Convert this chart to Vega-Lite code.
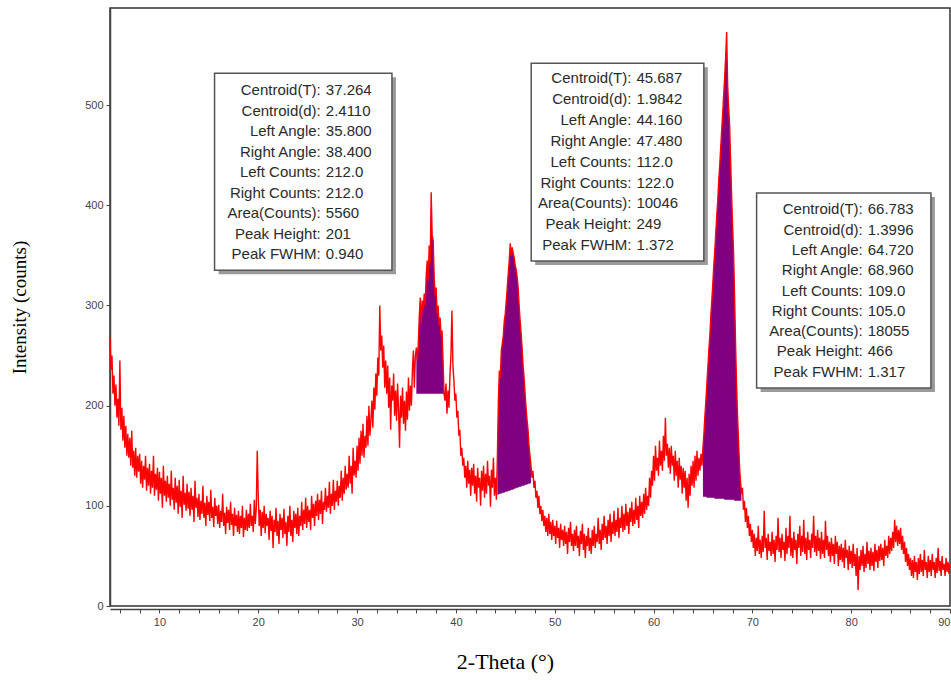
{
  "$schema": "https://vega.github.io/schema/vega-lite/v6.json",
  "width": 840,
  "height": 598,
  "autosize": "none",
  "padding": {"left": 110, "top": 8, "right": 1, "bottom": 78},
  "background": "white",
  "config": {
    "view": {"stroke": "#333", "strokeWidth": 1.5},
    "axis": {"grid": false, "labelFont": "Liberation Sans", "labelFontSize": 11, "labelColor": "#444", "domainColor": "#444", "domainWidth": 1.5, "tickColor": "#444", "titleFont": "Liberation Serif", "titleFontWeight": "normal", "titleColor": "#000", "labelOverlap": false}
  },
  "datasets": {
    "scan": [
      {"t":5.0,"c":268},{"t":5.1,"c":236},{"t":5.2,"c":250},{"t":5.3,"c":212},{"t":5.4,"c":230},{"t":5.5,"c":200},{"t":5.6,"c":221},{"t":5.7,"c":188},{"t":5.8,"c":207},{"t":5.9,"c":180},
      {"t":6.0,"c":245},{"t":6.1,"c":176},{"t":6.2,"c":198},{"t":6.3,"c":165},{"t":6.4,"c":190},{"t":6.5,"c":158},{"t":6.6,"c":180},{"t":6.7,"c":150},{"t":6.8,"c":172},{"t":6.9,"c":148},
      {"t":7.0,"c":168},{"t":7.1,"c":140},{"t":7.2,"c":175},{"t":7.3,"c":138},{"t":7.4,"c":155},{"t":7.5,"c":130},{"t":7.6,"c":158},{"t":7.7,"c":128},{"t":7.8,"c":150},{"t":7.9,"c":134},
      {"t":8.0,"c":152},{"t":8.1,"c":122},{"t":8.2,"c":145},{"t":8.3,"c":118},{"t":8.4,"c":140},{"t":8.5,"c":126},{"t":8.6,"c":150},{"t":8.7,"c":115},{"t":8.8,"c":138},{"t":8.9,"c":120},
      {"t":9.0,"c":142},{"t":9.1,"c":112},{"t":9.2,"c":135},{"t":9.3,"c":118},{"t":9.4,"c":150},{"t":9.5,"c":110},{"t":9.6,"c":132},{"t":9.7,"c":116},{"t":9.8,"c":138},{"t":9.9,"c":105},
      {"t":10.0,"c":134},{"t":10.1,"c":112},{"t":10.2,"c":128},{"t":10.3,"c":98},{"t":10.4,"c":140},{"t":10.5,"c":110},{"t":10.6,"c":125},{"t":10.7,"c":104},{"t":10.8,"c":130},{"t":10.9,"c":108},
      {"t":11.0,"c":122},{"t":11.1,"c":100},{"t":11.2,"c":135},{"t":11.3,"c":106},{"t":11.4,"c":118},{"t":11.5,"c":96},{"t":11.6,"c":128},{"t":11.7,"c":103},{"t":11.8,"c":120},{"t":11.9,"c":92},
      {"t":12.0,"c":126},{"t":12.1,"c":99},{"t":12.2,"c":115},{"t":12.3,"c":88},{"t":12.4,"c":130},{"t":12.5,"c":101},{"t":12.6,"c":113},{"t":12.7,"c":95},{"t":12.8,"c":122},{"t":12.9,"c":97},
      {"t":13.0,"c":114},{"t":13.1,"c":90},{"t":13.2,"c":118},{"t":13.3,"c":96},{"t":13.4,"c":110},{"t":13.5,"c":84},{"t":13.6,"c":125},{"t":13.7,"c":98},{"t":13.8,"c":108},{"t":13.9,"c":89},
      {"t":14.0,"c":112},{"t":14.1,"c":86},{"t":14.2,"c":105},{"t":14.3,"c":92},{"t":14.4,"c":120},{"t":14.5,"c":88},{"t":14.6,"c":103},{"t":14.7,"c":80},{"t":14.8,"c":110},{"t":14.9,"c":91},
      {"t":15.0,"c":104},{"t":15.1,"c":85},{"t":15.2,"c":116},{"t":15.3,"c":88},{"t":15.4,"c":99},{"t":15.5,"c":79},{"t":15.6,"c":108},{"t":15.7,"c":90},{"t":15.8,"c":100},{"t":15.9,"c":82},
      {"t":16.0,"c":101},{"t":16.1,"c":78},{"t":16.2,"c":95},{"t":16.3,"c":84},{"t":16.4,"c":112},{"t":16.5,"c":80},{"t":16.6,"c":93},{"t":16.7,"c":72},{"t":16.8,"c":99},{"t":16.9,"c":83},
      {"t":17.0,"c":96},{"t":17.1,"c":76},{"t":17.2,"c":104},{"t":17.3,"c":81},{"t":17.4,"c":92},{"t":17.5,"c":70},{"t":17.6,"c":98},{"t":17.7,"c":80},{"t":17.8,"c":91},{"t":17.9,"c":74},
      {"t":18.0,"c":95},{"t":18.1,"c":72},{"t":18.2,"c":90},{"t":18.3,"c":78},{"t":18.4,"c":100},{"t":18.5,"c":69},{"t":18.6,"c":88},{"t":18.7,"c":76},{"t":18.8,"c":96},{"t":18.9,"c":75},
      {"t":19.0,"c":92},{"t":19.1,"c":78},{"t":19.2,"c":102},{"t":19.3,"c":80},{"t":19.4,"c":90},{"t":19.5,"c":74},{"t":19.6,"c":106},{"t":19.7,"c":82},{"t":19.8,"c":98},{"t":19.9,"c":155},
      {"t":20.0,"c":110},{"t":20.1,"c":80},{"t":20.2,"c":96},{"t":20.3,"c":70},{"t":20.4,"c":94},{"t":20.5,"c":78},{"t":20.6,"c":100},{"t":20.7,"c":73},{"t":20.8,"c":92},{"t":20.9,"c":80},
      {"t":21.0,"c":88},{"t":21.1,"c":66},{"t":21.2,"c":95},{"t":21.3,"c":75},{"t":21.4,"c":90},{"t":21.5,"c":58},{"t":21.6,"c":86},{"t":21.7,"c":74},{"t":21.8,"c":98},{"t":21.9,"c":70},
      {"t":22.0,"c":85},{"t":22.1,"c":62},{"t":22.2,"c":92},{"t":22.3,"c":76},{"t":22.4,"c":88},{"t":22.5,"c":68},{"t":22.6,"c":97},{"t":22.7,"c":72},{"t":22.8,"c":84},{"t":22.9,"c":60},
      {"t":23.0,"c":90},{"t":23.1,"c":74},{"t":23.2,"c":100},{"t":23.3,"c":70},{"t":23.4,"c":86},{"t":23.5,"c":64},{"t":23.6,"c":95},{"t":23.7,"c":78},{"t":23.8,"c":92},{"t":23.9,"c":72},
      {"t":24.0,"c":98},{"t":24.1,"c":70},{"t":24.2,"c":90},{"t":24.3,"c":80},{"t":24.4,"c":104},{"t":24.5,"c":76},{"t":24.6,"c":96},{"t":24.7,"c":82},{"t":24.8,"c":108},{"t":24.9,"c":78},
      {"t":25.0,"c":100},{"t":25.1,"c":84},{"t":25.2,"c":96},{"t":25.3,"c":76},{"t":25.4,"c":110},{"t":25.5,"c":88},{"t":25.6,"c":102},{"t":25.7,"c":80},{"t":25.8,"c":105},{"t":25.9,"c":90},
      {"t":26.0,"c":112},{"t":26.1,"c":86},{"t":26.2,"c":106},{"t":26.3,"c":92},{"t":26.4,"c":115},{"t":26.5,"c":82},{"t":26.6,"c":104},{"t":26.7,"c":96},{"t":26.8,"c":118},{"t":26.9,"c":94},
      {"t":27.0,"c":110},{"t":27.1,"c":98},{"t":27.2,"c":124},{"t":27.3,"c":92},{"t":27.4,"c":112},{"t":27.5,"c":100},{"t":27.6,"c":126},{"t":27.7,"c":96},{"t":27.8,"c":115},{"t":27.9,"c":104},
      {"t":28.0,"c":125},{"t":28.1,"c":100},{"t":28.2,"c":120},{"t":28.3,"c":108},{"t":28.4,"c":135},{"t":28.5,"c":105},{"t":28.6,"c":128},{"t":28.7,"c":112},{"t":28.8,"c":140},{"t":28.9,"c":116},
      {"t":29.0,"c":132},{"t":29.1,"c":118},{"t":29.2,"c":150},{"t":29.3,"c":122},{"t":29.4,"c":140},{"t":29.5,"c":112},{"t":29.6,"c":158},{"t":29.7,"c":130},{"t":29.8,"c":145},{"t":29.9,"c":128},
      {"t":30.0,"c":160},{"t":30.1,"c":135},{"t":30.2,"c":168},{"t":30.3,"c":142},{"t":30.4,"c":175},{"t":30.5,"c":150},{"t":30.6,"c":182},{"t":30.7,"c":148},{"t":30.8,"c":170},{"t":30.9,"c":158},
      {"t":31.0,"c":190},{"t":31.1,"c":160},{"t":31.2,"c":200},{"t":31.3,"c":170},{"t":31.4,"c":185},{"t":31.5,"c":205},{"t":31.6,"c":178},{"t":31.7,"c":218},{"t":31.8,"c":196},{"t":31.9,"c":232},
      {"t":32.0,"c":210},{"t":32.1,"c":248},{"t":32.2,"c":230},{"t":32.3,"c":300},{"t":32.4,"c":255},{"t":32.5,"c":270},{"t":32.6,"c":238},{"t":32.7,"c":260},{"t":32.8,"c":218},{"t":32.9,"c":245},
      {"t":33.0,"c":212},{"t":33.1,"c":240},{"t":33.2,"c":198},{"t":33.3,"c":228},{"t":33.4,"c":176},{"t":33.5,"c":220},{"t":33.6,"c":205},{"t":33.7,"c":232},{"t":33.8,"c":190},{"t":33.9,"c":215},
      {"t":34.0,"c":185},{"t":34.1,"c":222},{"t":34.2,"c":196},{"t":34.3,"c":158},{"t":34.4,"c":210},{"t":34.5,"c":188},{"t":34.6,"c":218},{"t":34.7,"c":182},{"t":34.8,"c":205},{"t":34.9,"c":175},
      {"t":35.0,"c":214},{"t":35.1,"c":186},{"t":35.2,"c":228},{"t":35.3,"c":195},{"t":35.4,"c":220},{"t":35.5,"c":200},{"t":35.6,"c":235},{"t":35.7,"c":255},{"t":35.8,"c":218},{"t":35.9,"c":250},
      {"t":36.0,"c":258,"b":212,"p":1},{"t":36.1,"c":245,"b":212,"p":1},{"t":36.2,"c":262,"b":212,"p":1},{"t":36.3,"c":290,"b":212,"p":1},{"t":36.4,"c":308,"b":212,"p":1},{"t":36.5,"c":282,"b":212,"p":1},{"t":36.6,"c":305,"b":212,"p":1},{"t":36.7,"c":296,"b":212,"p":1},{"t":36.8,"c":312,"b":212,"p":1},{"t":36.9,"c":300,"b":212,"p":1},
      {"t":37.0,"c":330,"b":212,"p":1},{"t":37.1,"c":345,"b":212,"p":1},{"t":37.2,"c":325,"b":212,"p":1},{"t":37.3,"c":360,"b":212,"p":1},{"t":37.4,"c":342,"b":212,"p":1},{"t":37.5,"c":413,"b":212,"p":1},{"t":37.6,"c":370,"b":212,"p":1},{"t":37.7,"c":365,"b":212,"p":1},{"t":37.8,"c":330,"b":212,"p":1},{"t":37.9,"c":310,"b":212,"p":1},
      {"t":38.0,"c":318,"b":212,"p":1},{"t":38.1,"c":292,"b":212,"p":1},{"t":38.2,"c":300,"b":212,"p":1},{"t":38.3,"c":280,"b":212,"p":1},{"t":38.4,"c":288,"b":212,"p":1},{"t":38.5,"c":270,"b":212,"p":1},{"t":38.6,"c":275,"b":212,"p":1},{"t":38.7,"c":245,"b":212,"p":1},{"t":38.8,"c":212,"b":212,"p":1},{"t":38.9,"c":205},
      {"t":39.0,"c":222},{"t":39.1,"c":192},{"t":39.2,"c":215},{"t":39.3,"c":198},{"t":39.4,"c":230},{"t":39.5,"c":250},{"t":39.6,"c":295},{"t":39.7,"c":240},{"t":39.8,"c":225},{"t":39.9,"c":205},
      {"t":40.0,"c":212},{"t":40.1,"c":188},{"t":40.2,"c":195},{"t":40.3,"c":170},{"t":40.4,"c":176},{"t":40.5,"c":150},{"t":40.6,"c":158},{"t":40.7,"c":140},{"t":40.8,"c":148},{"t":40.9,"c":128},
      {"t":41.0,"c":140},{"t":41.1,"c":118},{"t":41.2,"c":145},{"t":41.3,"c":122},{"t":41.4,"c":136},{"t":41.5,"c":110},{"t":41.6,"c":138},{"t":41.7,"c":120},{"t":41.8,"c":142},{"t":41.9,"c":112},
      {"t":42.0,"c":130},{"t":42.1,"c":104},{"t":42.2,"c":138},{"t":42.3,"c":118},{"t":42.4,"c":128},{"t":42.5,"c":100},{"t":42.6,"c":135},{"t":42.7,"c":115},{"t":42.8,"c":140},{"t":42.9,"c":108},
      {"t":43.0,"c":132},{"t":43.1,"c":112},{"t":43.2,"c":145},{"t":43.3,"c":120},{"t":43.4,"c":130},{"t":43.5,"c":99},{"t":43.6,"c":136},{"t":43.7,"c":118},{"t":43.8,"c":148},{"t":43.9,"c":110},
      {"t":44.0,"c":128},{"t":44.1,"c":106},{"t":44.2,"c":150,"b":111,"p":2},{"t":44.3,"c":205,"b":111,"p":2},{"t":44.4,"c":235,"b":112,"p":2},{"t":44.5,"c":228,"b":112,"p":2},{"t":44.6,"c":255,"b":112,"p":2},{"t":44.7,"c":262,"b":113,"p":2},{"t":44.8,"c":270,"b":113,"p":2},{"t":44.9,"c":285,"b":113,"p":2},
      {"t":45.0,"c":292,"b":114,"p":2},{"t":45.1,"c":305,"b":114,"p":2},{"t":45.2,"c":318,"b":114,"p":2},{"t":45.3,"c":332,"b":115,"p":2},{"t":45.4,"c":345,"b":115,"p":2},{"t":45.5,"c":362,"b":115,"p":2},{"t":45.6,"c":350,"b":116,"p":2},{"t":45.7,"c":358,"b":116,"p":2},{"t":45.8,"c":352,"b":116,"p":2},{"t":45.9,"c":348,"b":117,"p":2},
      {"t":46.0,"c":340,"b":117,"p":2},{"t":46.1,"c":336,"b":118,"p":2},{"t":46.2,"c":328,"b":118,"p":2},{"t":46.3,"c":318,"b":118,"p":2},{"t":46.4,"c":300,"b":119,"p":2},{"t":46.5,"c":285,"b":119,"p":2},{"t":46.6,"c":272,"b":119,"p":2},{"t":46.7,"c":258,"b":120,"p":2},{"t":46.8,"c":240,"b":120,"p":2},{"t":46.9,"c":228,"b":120,"p":2},
      {"t":47.0,"c":212,"b":121,"p":2},{"t":47.1,"c":198,"b":121,"p":2},{"t":47.2,"c":186,"b":121,"p":2},{"t":47.3,"c":176,"b":122,"p":2},{"t":47.4,"c":160,"b":122,"p":2},{"t":47.5,"c":150,"b":122,"p":2},{"t":47.6,"c":140,"b":123,"p":2},{"t":47.7,"c":128},{"t":47.8,"c":135},{"t":47.9,"c":118},
      {"t":48.0,"c":125},{"t":48.1,"c":108},{"t":48.2,"c":115},{"t":48.3,"c":98},{"t":48.4,"c":110},{"t":48.5,"c":92},{"t":48.6,"c":100},{"t":48.7,"c":85},{"t":48.8,"c":96},{"t":48.9,"c":80},
      {"t":49.0,"c":90},{"t":49.1,"c":74},{"t":49.2,"c":88},{"t":49.3,"c":70},{"t":49.4,"c":92},{"t":49.5,"c":72},{"t":49.6,"c":84},{"t":49.7,"c":66},{"t":49.8,"c":86},{"t":49.9,"c":70},
      {"t":50.0,"c":80},{"t":50.1,"c":62},{"t":50.2,"c":85},{"t":50.3,"c":68},{"t":50.4,"c":78},{"t":50.5,"c":58},{"t":50.6,"c":82},{"t":50.7,"c":66},{"t":50.8,"c":76},{"t":50.9,"c":60},
      {"t":51.0,"c":80},{"t":51.1,"c":62},{"t":51.2,"c":74},{"t":51.3,"c":52},{"t":51.4,"c":78},{"t":51.5,"c":64},{"t":51.6,"c":84},{"t":51.7,"c":60},{"t":51.8,"c":72},{"t":51.9,"c":55},
      {"t":52.0,"c":76},{"t":52.1,"c":60},{"t":52.2,"c":80},{"t":52.3,"c":58},{"t":52.4,"c":70},{"t":52.5,"c":50},{"t":52.6,"c":75},{"t":52.7,"c":62},{"t":52.8,"c":82},{"t":52.9,"c":56},
      {"t":53.0,"c":72},{"t":53.1,"c":48},{"t":53.2,"c":70},{"t":53.3,"c":60},{"t":53.4,"c":78},{"t":53.5,"c":55},{"t":53.6,"c":68},{"t":53.7,"c":52},{"t":53.8,"c":76},{"t":53.9,"c":60},
      {"t":54.0,"c":80},{"t":54.1,"c":58},{"t":54.2,"c":72},{"t":54.3,"c":64},{"t":54.4,"c":88},{"t":54.5,"c":62},{"t":54.6,"c":76},{"t":54.7,"c":56},{"t":54.8,"c":82},{"t":54.9,"c":66},
      {"t":55.0,"c":90},{"t":55.1,"c":68},{"t":55.2,"c":80},{"t":55.3,"c":62},{"t":55.4,"c":86},{"t":55.5,"c":70},{"t":55.6,"c":92},{"t":55.7,"c":64},{"t":55.8,"c":84},{"t":55.9,"c":72},
      {"t":56.0,"c":95},{"t":56.1,"c":70},{"t":56.2,"c":86},{"t":56.3,"c":74},{"t":56.4,"c":98},{"t":56.5,"c":68},{"t":56.6,"c":88},{"t":56.7,"c":78},{"t":56.8,"c":100},{"t":56.9,"c":74},
      {"t":57.0,"c":92},{"t":57.1,"c":76},{"t":57.2,"c":102},{"t":57.3,"c":80},{"t":57.4,"c":94},{"t":57.5,"c":72},{"t":57.6,"c":98},{"t":57.7,"c":84},{"t":57.8,"c":104},{"t":57.9,"c":80},
      {"t":58.0,"c":96},{"t":58.1,"c":82},{"t":58.2,"c":108},{"t":58.3,"c":86},{"t":58.4,"c":100},{"t":58.5,"c":78},{"t":58.6,"c":110},{"t":58.7,"c":90},{"t":58.8,"c":104},{"t":58.9,"c":88},
      {"t":59.0,"c":112},{"t":59.1,"c":92},{"t":59.2,"c":118},{"t":59.3,"c":96},{"t":59.4,"c":110},{"t":59.5,"c":100},{"t":59.6,"c":128},{"t":59.7,"c":108},{"t":59.8,"c":135},{"t":59.9,"c":120},
      {"t":60.0,"c":150},{"t":60.1,"c":125},{"t":60.2,"c":160},{"t":60.3,"c":135},{"t":60.4,"c":148},{"t":60.5,"c":130},{"t":60.6,"c":165},{"t":60.7,"c":140},{"t":60.8,"c":155},{"t":60.9,"c":135},
      {"t":61.0,"c":170},{"t":61.1,"c":145},{"t":61.2,"c":188},{"t":61.3,"c":150},{"t":61.4,"c":162},{"t":61.5,"c":138},{"t":61.6,"c":158},{"t":61.7,"c":132},{"t":61.8,"c":160},{"t":61.9,"c":140},
      {"t":62.0,"c":150},{"t":62.1,"c":125},{"t":62.2,"c":155},{"t":62.3,"c":130},{"t":62.4,"c":145},{"t":62.5,"c":118},{"t":62.6,"c":148},{"t":62.7,"c":126},{"t":62.8,"c":140},{"t":62.9,"c":112},
      {"t":63.0,"c":138},{"t":63.1,"c":118},{"t":63.2,"c":135},{"t":63.3,"c":105},{"t":63.4,"c":128},{"t":63.5,"c":98},{"t":63.6,"c":132},{"t":63.7,"c":110},{"t":63.8,"c":140},{"t":63.9,"c":120},
      {"t":64.0,"c":145},{"t":64.1,"c":118},{"t":64.2,"c":150},{"t":64.3,"c":125},{"t":64.4,"c":155},{"t":64.5,"c":130},{"t":64.6,"c":148},{"t":64.7,"c":135},{"t":64.8,"c":152},{"t":64.9,"c":140},
      {"t":65.0,"c":158,"b":109,"p":3},{"t":65.1,"c":172,"b":109,"p":3},{"t":65.2,"c":190,"b":109,"p":3},{"t":65.3,"c":205,"b":109,"p":3},{"t":65.4,"c":222,"b":108,"p":3},{"t":65.5,"c":238,"b":108,"p":3},{"t":65.6,"c":256,"b":108,"p":3},{"t":65.7,"c":270,"b":108,"p":3},{"t":65.8,"c":290,"b":108,"p":3},{"t":65.9,"c":305,"b":108,"p":3},
      {"t":66.0,"c":322,"b":108,"p":3},{"t":66.1,"c":340,"b":108,"p":3},{"t":66.2,"c":355,"b":107,"p":3},{"t":66.3,"c":372,"b":107,"p":3},{"t":66.4,"c":390,"b":107,"p":3},{"t":66.5,"c":405,"b":107,"p":3},{"t":66.6,"c":425,"b":107,"p":3},{"t":66.7,"c":440,"b":107,"p":3},{"t":66.8,"c":458,"b":107,"p":3},{"t":66.9,"c":475,"b":107,"p":3},
      {"t":67.0,"c":492,"b":107,"p":3},{"t":67.1,"c":510,"b":107,"p":3},{"t":67.2,"c":528,"b":106,"p":3},{"t":67.3,"c":548,"b":106,"p":3},{"t":67.4,"c":573,"b":106,"p":3},{"t":67.5,"c":520,"b":106,"p":3},{"t":67.6,"c":498,"b":106,"p":3},{"t":67.7,"c":480,"b":106,"p":3},{"t":67.8,"c":445,"b":106,"p":3},{"t":67.9,"c":410,"b":106,"p":3},
      {"t":68.0,"c":380,"b":106,"p":3},{"t":68.1,"c":352,"b":106,"p":3},{"t":68.2,"c":310,"b":105,"p":3},{"t":68.3,"c":262,"b":105,"p":3},{"t":68.4,"c":222,"b":105,"p":3},{"t":68.5,"c":190,"b":105,"p":3},{"t":68.6,"c":165,"b":105,"p":3},{"t":68.7,"c":140,"b":105,"p":3},{"t":68.8,"c":125,"b":105,"p":3},{"t":68.9,"c":112,"b":105,"p":3},
      {"t":69.0,"c":118},{"t":69.1,"c":96},{"t":69.2,"c":105},{"t":69.3,"c":84},{"t":69.4,"c":98},{"t":69.5,"c":78},{"t":69.6,"c":90},{"t":69.7,"c":70},{"t":69.8,"c":82},{"t":69.9,"c":64},
      {"t":70.0,"c":76},{"t":70.1,"c":58},{"t":70.2,"c":72},{"t":70.3,"c":50},{"t":70.4,"c":68},{"t":70.5,"c":55},{"t":70.6,"c":80},{"t":70.7,"c":52},{"t":70.8,"c":66},{"t":70.9,"c":48},
      {"t":71.0,"c":70},{"t":71.1,"c":54},{"t":71.2,"c":95},{"t":71.3,"c":58},{"t":71.4,"c":68},{"t":71.5,"c":46},{"t":71.6,"c":72},{"t":71.7,"c":55},{"t":71.8,"c":64},{"t":71.9,"c":50},
      {"t":72.0,"c":74},{"t":72.1,"c":52},{"t":72.2,"c":66},{"t":72.3,"c":44},{"t":72.4,"c":70},{"t":72.5,"c":56},{"t":72.6,"c":88},{"t":72.7,"c":54},{"t":72.8,"c":68},{"t":72.9,"c":48},
      {"t":73.0,"c":72},{"t":73.1,"c":56},{"t":73.2,"c":64},{"t":73.3,"c":45},{"t":73.4,"c":78},{"t":73.5,"c":52},{"t":73.6,"c":70},{"t":73.7,"c":58},{"t":73.8,"c":90},{"t":73.9,"c":50},
      {"t":74.0,"c":68},{"t":74.1,"c":48},{"t":74.2,"c":74},{"t":74.3,"c":56},{"t":74.4,"c":66},{"t":74.5,"c":42},{"t":74.6,"c":72},{"t":74.7,"c":58},{"t":74.8,"c":80},{"t":74.9,"c":50},
      {"t":75.0,"c":70},{"t":75.1,"c":54},{"t":75.2,"c":86},{"t":75.3,"c":52},{"t":75.4,"c":68},{"t":75.5,"c":46},{"t":75.6,"c":74},{"t":75.7,"c":56},{"t":75.8,"c":66},{"t":75.9,"c":48},
      {"t":76.0,"c":72},{"t":76.1,"c":58},{"t":76.2,"c":90},{"t":76.3,"c":54},{"t":76.4,"c":70},{"t":76.5,"c":50},{"t":76.6,"c":76},{"t":76.7,"c":55},{"t":76.8,"c":68},{"t":76.9,"c":47},
      {"t":77.0,"c":74},{"t":77.1,"c":52},{"t":77.2,"c":66},{"t":77.3,"c":48},{"t":77.4,"c":85},{"t":77.5,"c":56},{"t":77.6,"c":70},{"t":77.7,"c":50},{"t":77.8,"c":64},{"t":77.9,"c":44},
      {"t":78.0,"c":68},{"t":78.1,"c":50},{"t":78.2,"c":62},{"t":78.3,"c":42},{"t":78.4,"c":70},{"t":78.5,"c":52},{"t":78.6,"c":64},{"t":78.7,"c":40},{"t":78.8,"c":60},{"t":78.9,"c":46},
      {"t":79.0,"c":62},{"t":79.1,"c":44},{"t":79.2,"c":58},{"t":79.3,"c":38},{"t":79.4,"c":66},{"t":79.5,"c":48},{"t":79.6,"c":56},{"t":79.7,"c":36},{"t":79.8,"c":60},{"t":79.9,"c":42},
      {"t":80.0,"c":55},{"t":80.1,"c":38},{"t":80.2,"c":62},{"t":80.3,"c":40},{"t":80.4,"c":52},{"t":80.5,"c":30},{"t":80.6,"c":58},{"t":80.7,"c":16},{"t":80.8,"c":50},{"t":80.9,"c":36},
      {"t":81.0,"c":56},{"t":81.1,"c":40},{"t":81.2,"c":60},{"t":81.3,"c":34},{"t":81.4,"c":52},{"t":81.5,"c":38},{"t":81.6,"c":64},{"t":81.7,"c":42},{"t":81.8,"c":55},{"t":81.9,"c":36},
      {"t":82.0,"c":58},{"t":82.1,"c":40},{"t":82.2,"c":54},{"t":82.3,"c":35},{"t":82.4,"c":62},{"t":82.5,"c":44},{"t":82.6,"c":56},{"t":82.7,"c":38},{"t":82.8,"c":60},{"t":82.9,"c":45},
      {"t":83.0,"c":62},{"t":83.1,"c":46},{"t":83.2,"c":58},{"t":83.3,"c":40},{"t":83.4,"c":66},{"t":83.5,"c":50},{"t":83.6,"c":60},{"t":83.7,"c":48},{"t":83.8,"c":70},{"t":83.9,"c":52},
      {"t":84.0,"c":68},{"t":84.1,"c":55},{"t":84.2,"c":74},{"t":84.3,"c":58},{"t":84.4,"c":86},{"t":84.5,"c":64},{"t":84.6,"c":80},{"t":84.7,"c":60},{"t":84.8,"c":76},{"t":84.9,"c":62},
      {"t":85.0,"c":78},{"t":85.1,"c":56},{"t":85.2,"c":70},{"t":85.3,"c":52},{"t":85.4,"c":64},{"t":85.5,"c":44},{"t":85.6,"c":58},{"t":85.7,"c":40},{"t":85.8,"c":52},{"t":85.9,"c":36},
      {"t":86.0,"c":48},{"t":86.1,"c":30},{"t":86.2,"c":46},{"t":86.3,"c":28},{"t":86.4,"c":50},{"t":86.5,"c":34},{"t":86.6,"c":44},{"t":86.7,"c":26},{"t":86.8,"c":48},{"t":86.9,"c":32},
      {"t":87.0,"c":52},{"t":87.1,"c":34},{"t":87.2,"c":46},{"t":87.3,"c":30},{"t":87.4,"c":56},{"t":87.5,"c":36},{"t":87.6,"c":44},{"t":87.7,"c":28},{"t":87.8,"c":50},{"t":87.9,"c":34},
      {"t":88.0,"c":46},{"t":88.1,"c":30},{"t":88.2,"c":52},{"t":88.3,"c":36},{"t":88.4,"c":44},{"t":88.5,"c":28},{"t":88.6,"c":48},{"t":88.7,"c":33},{"t":88.8,"c":58},{"t":88.9,"c":35},
      {"t":89.0,"c":45},{"t":89.1,"c":30},{"t":89.2,"c":50},{"t":89.3,"c":36},{"t":89.4,"c":42},{"t":89.5,"c":30},{"t":89.6,"c":48},{"t":89.7,"c":34},{"t":89.8,"c":44},{"t":89.9,"c":32},
      {"t":90.0,"c":42}
    ],
    "boxes": [
      {"box":1,"t":15.58,"t2":33.53,"c":531.9,"c2":335.3},
      {"box":2,"t":47.62,"t2":65.09,"c":541.9,"c2":344.3},
      {"box":3,"t":70.43,"t2":88.07,"c":412.2,"c2":217.6}
    ],
    "notes": [
      {"box":1,"t":26.33,"c":515.0,"k":"Centroid(T):","v":"37.264"},
      {"box":1,"t":26.33,"c":494.5,"k":"Centroid(d):","v":"2.4110"},
      {"box":1,"t":26.33,"c":474.1,"k":"Left Angle:","v":"35.800"},
      {"box":1,"t":26.33,"c":453.6,"k":"Right Angle:","v":"38.400"},
      {"box":1,"t":26.33,"c":433.1,"k":"Left Counts:","v":"212.0"},
      {"box":1,"t":26.33,"c":412.7,"k":"Right Counts:","v":"212.0"},
      {"box":1,"t":26.33,"c":392.2,"k":"Area(Counts):","v":"5560"},
      {"box":1,"t":26.33,"c":371.8,"k":"Peak Height:","v":"201"},
      {"box":1,"t":26.33,"c":351.3,"k":"Peak FWHM:","v":"0.940"},
      {"box":2,"t":57.76,"c":527.0,"k":"Centroid(T):","v":"45.687"},
      {"box":2,"t":57.76,"c":506.1,"k":"Centroid(d):","v":"1.9842"},
      {"box":2,"t":57.76,"c":485.2,"k":"Left Angle:","v":"44.160"},
      {"box":2,"t":57.76,"c":464.5,"k":"Right Angle:","v":"47.480"},
      {"box":2,"t":57.76,"c":443.6,"k":"Left Counts:","v":"112.0"},
      {"box":2,"t":57.76,"c":422.7,"k":"Right Counts:","v":"122.0"},
      {"box":2,"t":57.76,"c":401.9,"k":"Area(Counts):","v":"10046"},
      {"box":2,"t":57.76,"c":381.1,"k":"Peak Height:","v":"249"},
      {"box":2,"t":57.76,"c":360.3,"k":"Peak FWHM:","v":"1.372"},
      {"box":3,"t":81.17,"c":395.9,"k":"Centroid(T):","v":"66.783"},
      {"box":3,"t":81.17,"c":375.6,"k":"Centroid(d):","v":"1.3996"},
      {"box":3,"t":81.17,"c":355.4,"k":"Left Angle:","v":"64.720"},
      {"box":3,"t":81.17,"c":335.1,"k":"Right Angle:","v":"68.960"},
      {"box":3,"t":81.17,"c":314.9,"k":"Left Counts:","v":"109.0"},
      {"box":3,"t":81.17,"c":294.6,"k":"Right Counts:","v":"105.0"},
      {"box":3,"t":81.17,"c":274.3,"k":"Area(Counts):","v":"18055"},
      {"box":3,"t":81.17,"c":254.1,"k":"Peak Height:","v":"466"},
      {"box":3,"t":81.17,"c":233.8,"k":"Peak FWHM:","v":"1.317"}
    ]
  },
  "encoding": {
    "x": {"field": "t", "type": "quantitative",
      "scale": {"domain": [5, 90], "nice": false, "zero": false},
      "axis": {"title": "2-Theta (°)", "values": [6,8,10,12,14,16,18,20,22,24,26,28,30,32,34,36,38,40,42,44,46,48,50,52,54,56,58,60,62,64,66,68,70,72,74,76,78,80,82,84,86,88,90],
        "labelExpr": "datum.value % 10 === 0 ? datum.label : ''", "format": "d", "tickSize": 4, "labelPadding": 3, "labelFlush": true, "offset": 3,
        "titleFontSize": 22, "titlePadding": 24, "titleX": 395}},
    "y": {"field": "c", "type": "quantitative",
      "scale": {"domain": [0, 597], "nice": false},
      "axis": {"title": "Intensity (counts)", "values": [0,100,200,300,400,500], "tickSize": 4, "labelPadding": 3,
        "titleFontSize": 19, "titlePadding": 55}}
  },
  "layer": [
    {
      "data": {"name": "scan"},
      "transform": [{"filter": "isValid(datum.b)"}],
      "mark": {"type": "area", "color": "#800080", "opacity": 1},
      "encoding": {"y2": {"field": "b"}, "detail": {"field": "p", "type": "nominal"}}
    },
    {
      "data": {"name": "scan"},
      "mark": {"type": "line", "color": "#ff0000", "strokeWidth": 1.4},
      "encoding": {}
    },
    {
      "data": {"name": "boxes"},
      "mark": {"type": "rect", "color": "#9a9a9a", "xOffset": 4, "x2Offset": 4, "yOffset": 4, "y2Offset": 4},
      "encoding": {"x2": {"field": "t2"}, "y2": {"field": "c2"}}
    },
    {
      "data": {"name": "boxes"},
      "mark": {"type": "rect", "fill": "white", "stroke": "#555", "strokeWidth": 1.5},
      "encoding": {"x2": {"field": "t2"}, "y2": {"field": "c2"}}
    },
    {
      "data": {"name": "notes"},
      "mark": {"type": "text", "align": "right", "baseline": "middle", "dx": 0, "font": "Liberation Sans", "fontSize": 15, "color": "#2a2a2a"},
      "encoding": {"text": {"field": "k"}}
    },
    {
      "data": {"name": "notes"},
      "mark": {"type": "text", "align": "left", "baseline": "middle", "dx": 5, "font": "Liberation Sans", "fontSize": 15, "color": "#2a2a2a"},
      "encoding": {"text": {"field": "v"}}
    }
  ]
}
